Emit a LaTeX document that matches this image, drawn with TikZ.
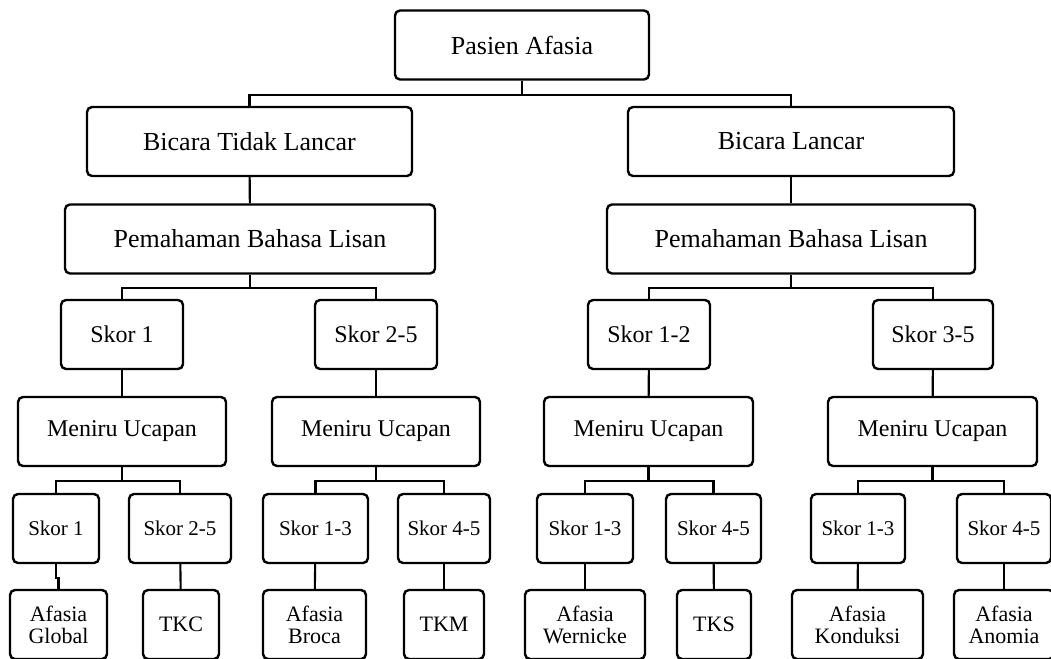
\documentclass[tikz,border=0pt]{standalone}
\usepackage{fontspec}
\setmainfont{Liberation Serif}
\usetikzlibrary{calc}

\tikzset{
  box/.style = {draw, rounded corners = 5pt, line width = 2.4pt, align = center, inner sep = 0pt, minimum height = 69},
  link/.style = {line width = 2.1pt},
  big/.style = {font = \fontsize{26}{28}\selectfont},
  mid/.style = {font = \fontsize{24}{26}\selectfont},
  small/.style = {font = \fontsize{21}{22}\selectfont},
  tiny/.style = {font = \fontsize{22}{22}\selectfont},
}

\begin{document}
\begin{tikzpicture}[x = 1pt, y = -1pt]
\def\ra{45}
\def\rb{141.5}
\def\rc{239}
\def\rd{334.5}
\def\re{431.5}
\def\rf{528.5}
\def\rg{624.5}
\useasboundingbox (0,0) rectangle (1051,658);

\node[box, big, minimum width = 254] (pa) at (522,\ra) {Pasien Afasia};

\node[box, big, minimum width = 325] (btl) at (249.5,\rb) {Bicara Tidak Lancar};
\node[box, big, minimum width = 326] (bl) at (791,\rb) {Bicara Lancar};

\node[box, big, minimum width = 370] (pbl1) at (250,\rc) {Pemahaman Bahasa Lisan};
\node[box, big, minimum width = 368] (pbl2) at (791,\rc) {Pemahaman Bahasa Lisan};

\node[box, mid, minimum width = 122] (s1) at (122,\rd) {Skor 1};
\node[box, mid, minimum width = 122] (s25) at (376,\rd) {Skor 2-5};
\node[box, mid, minimum width = 122] (s12) at (649,\rd) {Skor 1-2};
\node[box, mid, minimum width = 120] (s35) at (933,\rd) {Skor 3-5};

\node[box, mid, minimum width = 208] (mu1) at (122,\re) {Meniru Ucapan};
\node[box, mid, minimum width = 208] (mu2) at (376,\re) {Meniru Ucapan};
\node[box, mid, minimum width = 209] (mu3) at (648.5,\re) {Meniru Ucapan};
\node[box, mid, minimum width = 209] (mu4) at (932.5,\re) {Meniru Ucapan};

\node[box, small, minimum width = 86] (a1) at (56,\rf) {Skor 1};
\node[box, small, minimum width = 102] (a2) at (180,\rf) {Skor 2-5};
\node[box, small, minimum width = 105] (b1) at (315.5,\rf) {Skor 1-3};
\node[box, small, minimum width = 92] (b2) at (444,\rf) {Skor 4-5};
\node[box, small, minimum width = 96] (c1) at (585,\rf) {Skor 1-3};
\node[box, small, minimum width = 95] (c2) at (713.5,\rf) {Skor 4-5};
\node[box, small, minimum width = 94] (d1) at (858,\rf) {Skor 1-3};
\node[box, small, minimum width = 94] (d2) at (1004,\rf) {Skor 4-5};

\node[box, tiny, minimum width = 97] (ag) at (58.5,\rg) {Afasia\\Global};
\node[box, tiny, minimum width = 76] (tkc) at (181,\rg) {TKC};
\node[box, tiny, minimum width = 103] (ab) at (314.5,\rg) {Afasia\\Broca};
\node[box, tiny, minimum width = 80] (tkm) at (444,\rg) {TKM};
\node[box, tiny, minimum width = 120] (aw) at (585,\rg) {Afasia\\Wernicke};
\node[box, tiny, minimum width = 74] (tks) at (714,\rg) {TKS};
\node[box, tiny, minimum width = 131] (ak) at (857.5,\rg) {Afasia\\Konduksi};
\node[box, tiny, minimum width = 100] (aa) at (1004,\rg) {Afasia\\Anomia};

% branches
\draw[link] (pa.south) -- ++(0,14) coordinate (j0);
\draw[link] (btl.north) |- (j0) -| (bl.north);
\draw[link] (btl) -- (pbl1);
\draw[link] (bl) -- (pbl2);

\draw[link] (pbl1.south) -- ++(0,13) coordinate (j1);
\draw[link] (s1.north) |- (j1) -| (s25.north);
\draw[link] (pbl2.south) -- ++(0,13) coordinate (j2);
\draw[link] (s12.north) |- (j2) -| (s35.north);

\draw[link] (s1) -- (mu1);
\draw[link] (s25) -- (mu2);
\draw[link] (s12) -- (mu3);
\draw[link] (s35) -- (mu4);

\foreach \m/\l/\r in {mu1/a1/a2, mu2/b1/b2, mu3/c1/c2, mu4/d1/d2} {
  \draw[link] (\m.south) -- ++(0,14) coordinate (jm);
  \draw[link] (\l.north) |- (jm) -| (\r.north);
}

\draw[link] (a1.south) -- ++(0,14) -| (ag.north);
\draw[link] (a2) -- (tkc);
\draw[link] (b1) -- (ab);
\draw[link] (b2) -- (tkm);
\draw[link] (c1) -- (aw);
\draw[link] (c2) -- (tks);
\draw[link] (d1) -- (ak);
\draw[link] (d2) -- (aa);
\end{tikzpicture}
\end{document}
